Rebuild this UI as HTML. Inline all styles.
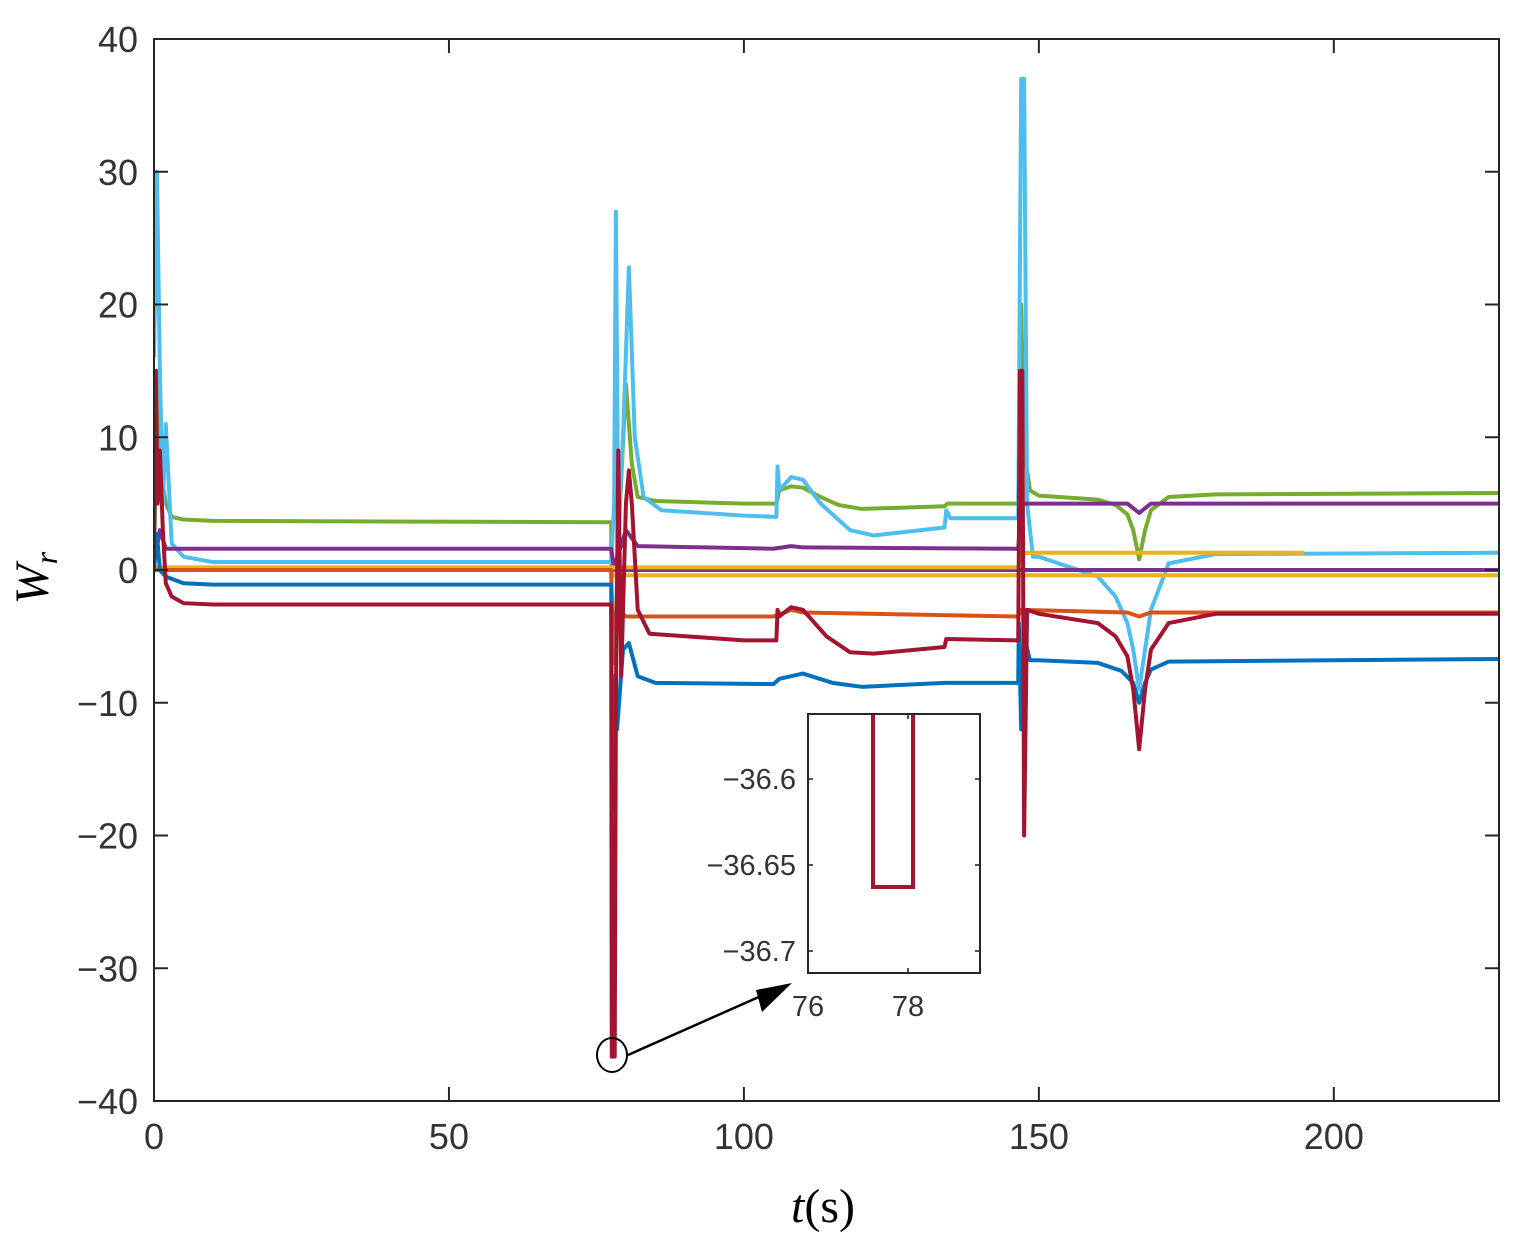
<!DOCTYPE html>
<html><head><meta charset="utf-8"><style>
body{margin:0;background:#fff}
svg text{font-family:"Liberation Sans",sans-serif;fill:#333}
</style></head><body>
<svg id="c" width="1519" height="1239" xmlns="http://www.w3.org/2000/svg"></svg>
<script>
const xTicks=[0,50,100,150,200];
const yTicks=[-40,-30,-20,-10,0,10,20,30,40];
const seriesColors=["#77AC30","#4DBEEE","#7E2F8E","#7E2F8E","#EDB120","#EDB120","#D95319","#0072BD","#A2142F"];
const seriesNames=["green","cyan","purple","purple-zero","yellow","yellow-upper","orange","blue","red"];
const greenT=[0,0.5,1,2,3,5,10,77.5,77.6,78,79,80,81,82,85,100,105.5,106,108,110,113,116,120,134,134.5,146.5,147,147.5,148.5,150,160,163,165,166,167,168,169,172,180,228];
const greenV=[0.3,15,8,5,4,3.8,3.7,3.6,-5,-7,5,14,8,5.5,5.2,5,5,6,6.3,6.2,5.5,4.9,4.6,4.8,5,5,20,9,6,5.6,5.3,4.9,4.2,3,0.8,3,4.5,5.5,5.7,5.8];
const cyanT=[0,0.5,1,1.5,2,3,5,10,77.5,78,78.3,78.7,79.5,80.5,81.5,83,86,100,105.5,105.7,106,108,110,113,118,122,134,134.3,135,146.5,147,147.5,148,149,150,160,163,165,166,167,168,169,172,180,228];
const cyanV=[16,30,15,5,11,2,1,0.6,0.6,5,27,3,10,22.8,10,5.5,4.5,4.1,4,7.8,6,7,6.8,5,3,2.6,3.2,4.5,3.9,3.9,37,37,5,1,1,-0.5,-2,-4,-6,-9,-6,-3,0.5,1.2,1.3];
const purpleT=[0,1,2,77.5,78,80,82,105,108,110,146.5,147,165,167,169,228];
const purpleV=[0.5,3,1.6,1.6,0.2,3,1.8,1.6,1.8,1.7,1.6,5,5,4.3,5,5];
const purple2T=[0,77.5,78,228];
const purple2V=[0.1,0.1,0,0];
const yellowT=[0,77.5,77.7,228];
const yellowV=[0.1,0.1,-0.4,-0.4];
const yellow2T=[0,146.5,147,195];
const yellow2V=[0.2,0.2,1.3,1.3];
const orangeT=[0,77.5,77.7,78.5,80,105,108,110,146.5,147,165,167,169,228];
const orangeV=[0,0,-4.5,-3,-3.5,-3.5,-3,-3.2,-3.5,-3,-3.2,-3.5,-3.2,-3.2];
const blueT=[0,0.5,1,2,5,10,77.5,77.7,78,78.5,79.5,80.5,82,85,105,106,110,115,120,134,146.5,146.6,147,147.5,148.5,150,160,164,166,167,168,169,172,228];
const blueV=[0,2.7,0,-0.5,-1,-1.1,-1.1,-18,-8,-12,-6,-5.5,-8,-8.5,-8.6,-8.2,-7.8,-8.5,-8.8,-8.5,-8.5,-4,-12,-5,-6.8,-6.8,-7,-7.6,-8.5,-10,-8.5,-7.5,-6.9,-6.7];
const redT=[0,0.3,0.6,1,1.5,2,3,5,10,77.5,77.6,78.1,78.3,78.7,79.2,80,80.5,81,82,84,100,105.5,105.7,106,108,110,114,118,122,134,134.3,146.5,146.8,147.2,147.5,148,150,160,163,165,166,167,168,169,172,180,228];
const redV=[0,15,5,9,3,-1,-2,-2.5,-2.6,-2.6,-36.66,-36.66,-10,9,-8,5,7.5,5,-3,-4.8,-5.3,-5.3,-3,-3.5,-2.8,-3,-5,-6.2,-6.3,-5.8,-5.2,-5.3,15,15,-20,-3,-3.3,-4,-5,-6.5,-9,-13.5,-9,-6,-4,-3.3,-3.3];
const allT=[greenT,cyanT,purpleT,purple2T,yellowT,yellow2T,orangeT,blueT,redT];
const allV=[greenV,cyanV,purpleV,purple2V,yellowV,yellow2V,orangeV,blueV,redV];
const insetXTicks=[76,78];
const insetYTicks=[-36.6,-36.65,-36.7];
const insetT=[77.3,77.3,78.1,78.1];
const insetV=[-36.5,-36.6628,-36.6628,-36.5];

const NS="http://www.w3.org/2000/svg",svg=document.getElementById('c');
const L=154,R=1499,T=39,B=1101,xmin=0,xmax=228,ymin=-40,ymax=40;
const X=v=>L+(v-xmin)/(xmax-xmin)*(R-L), Y=v=>B-(v-ymin)/(ymax-ymin)*(B-T);
function el(tag,a,p){const e=document.createElementNS(NS,tag);for(const k in a)e.setAttribute(k,a[k]);(p||svg).appendChild(e);return e;}
const defs=el('defs',{});
const cp=el('clipPath',{id:'cp'},defs);el('rect',{x:L,y:T,width:R-L,height:B-T},cp);
const g=el('g',{'clip-path':'url(#cp)'});
allT.forEach((ts,i)=>{
 const p=el('polyline',{points:ts.map((t,j)=>X(t)+','+Y(allV[i][j])).join(' '),fill:'none',stroke:seriesColors[i],'stroke-width':4,'stroke-linejoin':'round'},g);
 
 
});
const box=el('rect',{x:L,y:T,width:R-L,height:B-T,fill:'none',stroke:'#262626','stroke-width':2});

xTicks.forEach(v=>{const x=X(v);
 el('line',{x1:x,x2:x,y1:B,y2:B-14,stroke:'#262626','stroke-width':2});
 el('line',{x1:x,x2:x,y1:T,y2:T+14,stroke:'#262626','stroke-width':2});
 const t=el('text',{x:x,y:B+48,'text-anchor':'middle','font-size':36});t.textContent=v;
 });
yTicks.forEach(v=>{const y=Y(v);
 el('line',{x1:L,x2:L+14,y1:y,y2:y,stroke:'#262626','stroke-width':2});
 el('line',{x1:R,x2:R-14,y1:y,y2:y,stroke:'#262626','stroke-width':2});
 const t=el('text',{x:L-16,y:y+13,'text-anchor':'end','font-size':36});t.textContent=v<0?'\u2212'+(-v):v;
 });
const xl=el('text',{x:823,y:1222,'text-anchor':'middle','font-size':48,style:'font-family:"Liberation Serif",serif;fill:#000'});
xl.innerHTML='<tspan font-style="italic">t</tspan>(s)';
const yl=el('text',{x:48,y:578,'text-anchor':'middle','font-size':48,transform:'rotate(-90 48 578)',style:'font-family:"Liberation Serif",serif;fill:#000;font-style:italic'});
yl.innerHTML='W<tspan font-size="32" dy="9">r</tspan>';
const circ=el('ellipse',{cx:612,cy:1055,rx:15,ry:17,fill:'none',stroke:'#000','stroke-width':2});

const ar=el('line',{x1:628,y1:1055,x2:770,y2:992,stroke:'#000','stroke-width':2.5});

el('polygon',{points:'792,983 762,1012 756,990',fill:'#000'});
const IL=808,IR=980,IT=714,IB=973,ixmin=76,ixmax=79.44,iymin=-36.7128,iymax=-36.5622;
const IX=v=>IL+(v-ixmin)/(ixmax-ixmin)*(IR-IL), IY=v=>IB-(v-iymin)/(iymax-iymin)*(IB-IT);
el('rect',{x:IL,y:IT,width:IR-IL,height:IB-IT,fill:'#fff'});
const icp=el('clipPath',{id:'icp'},defs);el('rect',{x:IL,y:IT,width:IR-IL,height:IB-IT},icp);
const ig=el('g',{'clip-path':'url(#icp)'});
const ip=el('polyline',{points:insetT.map((t,j)=>IX(t)+','+IY(insetV[j])).join(' '),fill:'none',stroke:'#A2142F','stroke-width':4},ig);

const ib=el('rect',{x:IL,y:IT,width:IR-IL,height:IB-IT,fill:'none',stroke:'#262626','stroke-width':2});

insetXTicks.forEach(v=>{const x=IX(v);
 el('line',{x1:x,x2:x,y1:IB,y2:IB-5,stroke:'#262626','stroke-width':1.6});
 el('line',{x1:x,x2:x,y1:IT,y2:IT+5,stroke:'#262626','stroke-width':1.6});
 const t=el('text',{x:x,y:IB+43,'text-anchor':'middle','font-size':29});t.textContent=v;
 });
insetYTicks.forEach(v=>{const y=IY(v);
 el('line',{x1:IL,x2:IL+5,y1:y,y2:y,stroke:'#262626','stroke-width':1.6});
 el('line',{x1:IR,x2:IR-5,y1:y,y2:y,stroke:'#262626','stroke-width':1.6});
 const t=el('text',{x:IL-12,y:y+10,'text-anchor':'end','font-size':29});t.textContent='\u2212'+(-v);
 });
</script>
</body></html>
